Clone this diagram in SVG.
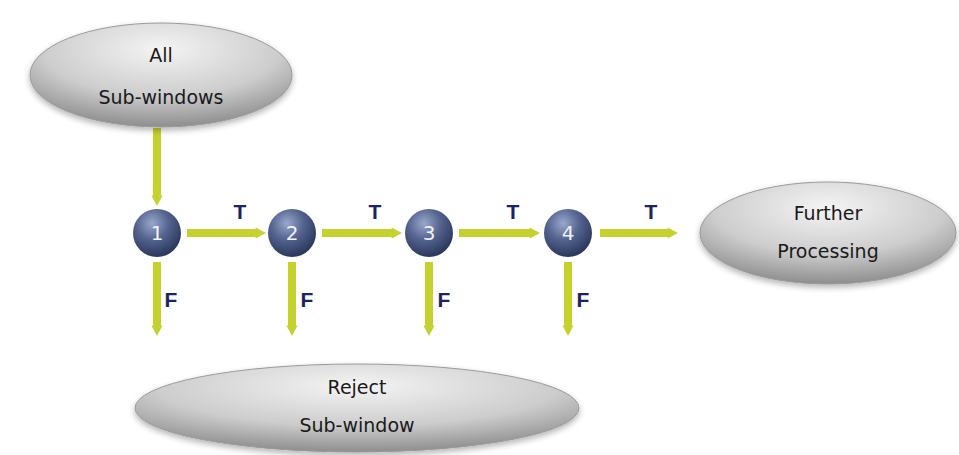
<svg xmlns="http://www.w3.org/2000/svg" width="959" height="455" viewBox="0 0 959 455">
  <defs>
    <radialGradient id="pill" cx="0.5" cy="0.25" r="0.75">
      <stop offset="0" stop-color="#f4f4f4"/>
      <stop offset="0.6" stop-color="#cdcdcd"/>
      <stop offset="1" stop-color="#8e8e8e"/>
    </radialGradient>
    <radialGradient id="ball" cx="0.4" cy="0.3" r="0.75">
      <stop offset="0" stop-color="#9aa8cc"/>
      <stop offset="0.45" stop-color="#54648f"/>
      <stop offset="1" stop-color="#253256"/>
    </radialGradient>
    <filter id="soft" x="-10%" y="-20%" width="120%" height="150%">
      <feGaussianBlur in="SourceAlpha" stdDeviation="3"/>
      <feOffset dy="3"/>
      <feComponentTransfer><feFuncA type="linear" slope="0.3"/></feComponentTransfer>
      <feMerge><feMergeNode/><feMergeNode in="SourceGraphic"/></feMerge>
    </filter>
    <!-- slim arrowhead, just a little wider than the shaft -->
    <marker id="head" markerWidth="1.4" markerHeight="2" refX="0.3" refY="1" orient="auto" markerUnits="strokeWidth" overflow="visible">
      <path d="M0,0.3 L1.3,1 L0,1.7 Z" fill="#c5d12c"/>
    </marker>
  </defs>
  <style>
    .pill { fill: url(#pill); stroke: #9a9a9a; stroke-width: 1; filter: url(#soft); }
    .pill-text { font-family: "DejaVu Sans", "Liberation Sans", sans-serif; font-size: 19px; fill: #1a1a1a; text-anchor: middle; }
    .ball { fill: url(#ball); }
    .num { font-family: "DejaVu Sans", "Liberation Sans", sans-serif; font-size: 20px; fill: #f0f2f8; text-anchor: middle; }
    .flow { stroke: #c5d12c; stroke-width: 8; fill: none; marker-end: url(#head); }
    .tf { font-family: "Liberation Sans", Arial, sans-serif; font-weight: bold; font-size: 21px; fill: #1c2360; text-anchor: middle; }
  </style>

  <rect width="959" height="455" fill="#ffffff"/>

  <g id="connectors">
    <line class="flow" x1="157" y1="128" x2="157" y2="198"/>
    <line class="flow" x1="187" y1="233" x2="258" y2="233"/>
    <line class="flow" x1="322" y1="233" x2="394" y2="233"/>
    <line class="flow" x1="459" y1="233" x2="532" y2="233"/>
    <line class="flow" x1="600" y1="233" x2="670" y2="233"/>
    <line class="flow" x1="157" y1="262" x2="157" y2="328"/>
    <line class="flow" x1="292" y1="262" x2="292" y2="328"/>
    <line class="flow" x1="429" y1="262" x2="429" y2="328"/>
    <line class="flow" x1="568" y1="262" x2="568" y2="328"/>
    <text class="tf" x="240" y="219">T</text>
    <text class="tf" x="375" y="219">T</text>
    <text class="tf" x="513" y="219">T</text>
    <text class="tf" x="651" y="219">T</text>
    <text class="tf" x="171" y="307">F</text>
    <text class="tf" x="307" y="307">F</text>
    <text class="tf" x="444" y="307">F</text>
    <text class="tf" x="583" y="307">F</text>
  </g>

  <g id="all-subwindows">
    <ellipse class="pill" cx="161" cy="75" rx="131" ry="52"/>
    <text class="pill-text" x="161" y="62">All</text>
    <text class="pill-text" x="161" y="104">Sub-windows</text>
  </g>

  <g id="stage-1">
    <circle class="ball" cx="157" cy="233" r="24"/>
    <text class="num" x="157" y="240">1</text>
  </g>
  <g id="stage-2">
    <circle class="ball" cx="292" cy="233" r="24"/>
    <text class="num" x="292" y="240">2</text>
  </g>
  <g id="stage-3">
    <circle class="ball" cx="429" cy="233" r="24"/>
    <text class="num" x="429" y="240">3</text>
  </g>
  <g id="stage-4">
    <circle class="ball" cx="568" cy="233" r="24"/>
    <text class="num" x="568" y="240">4</text>
  </g>

  <g id="further-processing">
    <ellipse class="pill" cx="828" cy="233" rx="128" ry="51"/>
    <text class="pill-text" x="828" y="220">Further</text>
    <text class="pill-text" x="828" y="258">Processing</text>
  </g>

  <g id="reject-subwindow">
    <ellipse class="pill" cx="357" cy="408" rx="222" ry="44"/>
    <text class="pill-text" x="357" y="394">Reject</text>
    <text class="pill-text" x="357" y="432">Sub-window</text>
  </g>
</svg>
